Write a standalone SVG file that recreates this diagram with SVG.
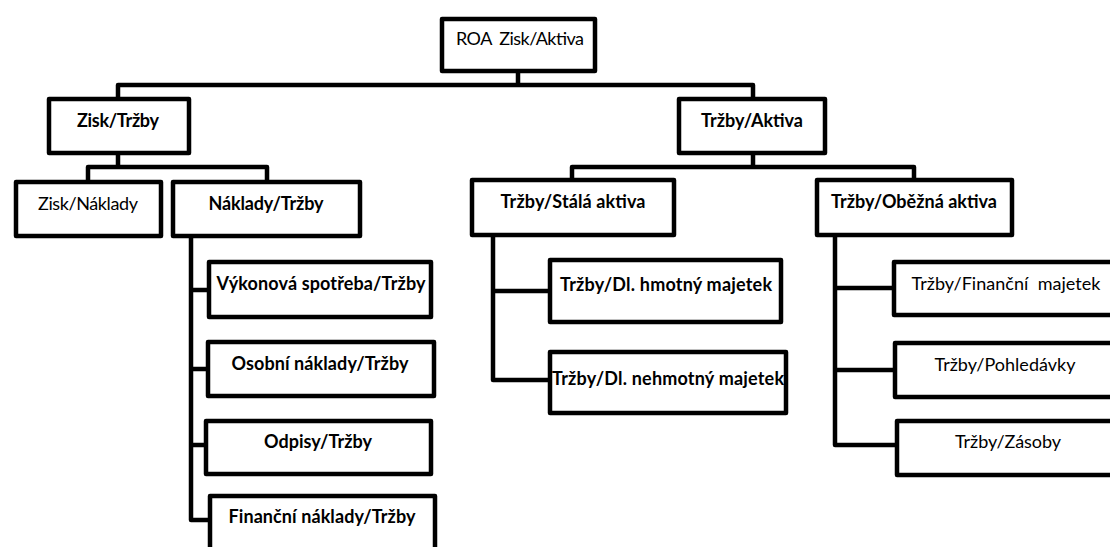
<svg xmlns="http://www.w3.org/2000/svg" width="1110" height="547" viewBox="0 0 1110 547">
<style>
.box{fill:#fff;stroke:#000;stroke-width:4.5;stroke-linejoin:round}
.con{fill:none;stroke:#000;stroke-width:4.5;stroke-linejoin:round}
text{font-family:Lato,"Open Sans",sans-serif;font-size:18px;fill:#000;text-anchor:middle;white-space:pre}
.b{font-weight:bold}
</style>
<rect width="1110" height="547" fill="#fff"/>
<g id="connectors">
<path class="con" d="M518 73V85M118 97V85H753V97"/>
<path class="con" d="M118 155V167M88 180V167H267V180"/>
<path class="con" d="M753 155V167M572 178V167H914V178"/>
<path class="con" d="M191 238V520H208M191 290H207M191 369H206M191 445H204"/>
<path class="con" d="M493 237V380H548M493 291H548"/>
<path class="con" d="M835 237V445H895M835 288H892M835 370H893"/>
</g>
<g id="n-roa"><rect class="box" x="442" y="19" width="153" height="52"/><text x="520" y="45" xml:space="preserve" textLength="128" lengthAdjust="spacing">ROA  Zisk/Aktiva</text></g>
<g id="n-zisk-trzby"><rect class="box" x="49" y="99" width="140" height="54"/><text class="b" x="118" y="127" textLength="82" lengthAdjust="spacing">Zisk/Tržby</text></g>
<g id="n-trzby-aktiva"><rect class="box" x="679" y="99" width="146" height="54"/><text class="b" x="752" y="127" textLength="102" lengthAdjust="spacing">Tržby/Aktiva</text></g>
<g id="n-zisk-naklady"><rect class="box" x="16" y="182" width="145" height="54"/><text x="88" y="210" textLength="100" lengthAdjust="spacing">Zisk/Náklady</text></g>
<g id="n-naklady-trzby"><rect class="box" x="173" y="182" width="187" height="54"/><text class="b" x="266" y="210" textLength="115" lengthAdjust="spacing">Náklady/Tržby</text></g>
<g id="n-stala"><rect class="box" x="472" y="180" width="202" height="55"/><text class="b" x="573" y="208" textLength="145" lengthAdjust="spacing">Tržby/Stálá aktiva</text></g>
<g id="n-obezna"><rect class="box" x="817" y="180" width="195" height="55"/><text class="b" x="914" y="208" textLength="166" lengthAdjust="spacing">Tržby/Oběžná aktiva</text></g>
<g id="n-vykonova"><rect class="box" x="209" y="262" width="222" height="55"/><text class="b" x="321" y="290" textLength="209" lengthAdjust="spacing">Výkonová spotřeba/Tržby</text></g>
<g id="n-osobni"><rect class="box" x="208" y="342" width="226" height="54"/><text class="b" x="320" y="370" textLength="177" lengthAdjust="spacing">Osobní náklady/Tržby</text></g>
<g id="n-odpisy"><rect class="box" x="206" y="421" width="225" height="53"/><text class="b" x="318" y="448" textLength="108" lengthAdjust="spacing">Odpisy/Tržby</text></g>
<g id="n-financni-naklady"><rect class="box" x="210" y="496" width="225" height="70"/><text class="b" x="322" y="523" textLength="187" lengthAdjust="spacing">Finanční náklady/Tržby</text></g>
<g id="n-hmotny"><rect class="box" x="550" y="260" width="231" height="62"/><text class="b" x="666" y="291" textLength="212" lengthAdjust="spacing">Tržby/Dl. hmotný majetek</text></g>
<g id="n-nehmotny"><rect class="box" x="550" y="352" width="236" height="61"/><text class="b" x="668" y="385" textLength="232" lengthAdjust="spacing">Tržby/Dl. nehmotný majetek</text></g>
<g id="n-financni-majetek"><rect class="box" x="894" y="262" width="230" height="53"/><text x="1006" y="290" xml:space="preserve" textLength="189" lengthAdjust="spacing">Tržby/Finanční  majetek</text></g>
<g id="n-pohledavky"><rect class="box" x="895" y="343" width="230" height="54"/><text x="1005" y="371" textLength="141" lengthAdjust="spacing">Tržby/Pohledávky</text></g>
<g id="n-zasoby"><rect class="box" x="897" y="421" width="230" height="54"/><text x="1008" y="448" textLength="106" lengthAdjust="spacing">Tržby/Zásoby</text></g>
</svg>
